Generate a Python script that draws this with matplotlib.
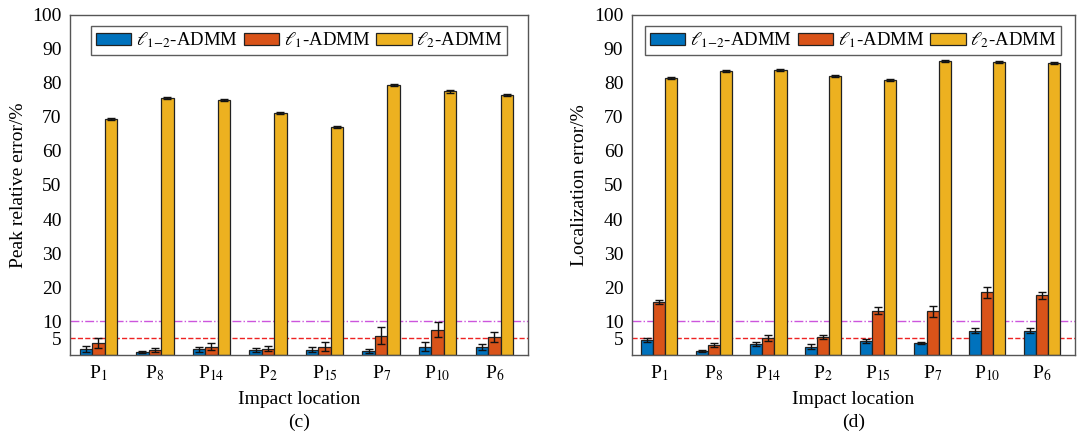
import numpy as np
import matplotlib
matplotlib.use("Agg")
import matplotlib.pyplot as plt

plt.rcParams['font.family'] = ['Liberation Serif', 'DejaVu Serif']
plt.rcParams['mathtext.fontset'] = 'stix'

locations = ['P$_1$', 'P$_8$', 'P$_{14}$', 'P$_2$', 'P$_{15}$', 'P$_7$', 'P$_{10}$', 'P$_6$']
methods = [r'$\ell_{1\mathrm{-}2}$-ADMM', r'$\ell_1$-ADMM', r'$\ell_2$-ADMM']
colors = ['#0072BD', '#D95319', '#EDB120']

# (c) peak relative error / %
peak_l12 = [1.8, 0.8, 1.7, 1.4, 1.6, 1.3, 2.5, 2.3]
peak_l1 = [3.5, 1.5, 2.5, 1.9, 2.5, 5.7, 7.5, 5.4]
peak_l2 = [69.5, 75.5, 75.0, 71.2, 67.0, 79.5, 77.5, 76.5]
peak_l12_err = [0.8, 0.3, 0.8, 0.6, 0.8, 0.6, 1.3, 0.9]
peak_l1_err = [1.4, 0.6, 0.9, 0.8, 1.4, 2.4, 2.3, 1.5]
peak_l2_err = [0.3, 0.3, 0.3, 0.3, 0.3, 0.3, 0.3, 0.3]

# (d) localization error / %
loc_l12 = [4.4, 1.3, 3.3, 2.5, 4.1, 3.5, 7.2, 7.2]
loc_l1 = [15.7, 3.0, 5.0, 5.4, 13.0, 12.8, 18.4, 17.6]
loc_l2 = [81.5, 83.5, 83.7, 82.0, 81.0, 86.5, 86.3, 86.0]
loc_l12_err = [0.5, 0.3, 0.6, 0.6, 0.5, 0.4, 0.8, 0.8]
loc_l1_err = [0.6, 0.6, 0.8, 0.6, 1.0, 1.5, 1.7, 1.0]
loc_l2_err = [0.3, 0.3, 0.3, 0.3, 0.3, 0.3, 0.3, 0.3]

yticks = [5, 10, 20, 30, 40, 50, 60, 70, 80, 90, 100]


def draw_panel(ax, series, errors, ylabel, tag):
    x = np.arange(len(locations))
    w = 0.22
    for i, (vals, errs) in enumerate(zip(series, errors)):
        ax.bar(x + (i - 1) * w, vals, w, color=colors[i], edgecolor='#222222',
               linewidth=0.9, label=methods[i], zorder=2)
        ax.errorbar(x + (i - 1) * w, vals, yerr=errs, fmt='none', ecolor='#111111',
                    elinewidth=1.0, capsize=3, capthick=1.0, zorder=3)
    ax.axhline(10, color='#CC55DD', ls='-.', lw=1.0, zorder=1)
    ax.axhline(5, color='#EE2222', ls='--', lw=1.0, zorder=1)
    ax.set_ylim(0, 100)
    ax.set_xlim(-0.5, 7.6)
    ax.set_yticks(yticks)
    ax.set_xticks(x)
    ax.set_xticklabels(locations)
    ax.tick_params(axis='both', length=0, labelsize=14, pad=6)
    for s in ax.spines.values():
        s.set_color('#555555')
        s.set_linewidth(1.0)
    ax.set_ylabel(ylabel, fontsize=14, labelpad=4)
    ax.set_xlabel('Impact location\n' + tag, fontsize=14, labelpad=6, linespacing=1.4)
    leg = ax.legend(loc='upper center', ncol=3, fontsize=13.5, frameon=True,
                    fancybox=False, edgecolor='#333333', handlelength=1.9,
                    handleheight=0.65, handletextpad=0.25, columnspacing=0.3,
                    borderpad=0.25, bbox_to_anchor=(0.5, 0.995))
    leg.get_frame().set_linewidth(1.0)


fig = plt.figure(figsize=(10.78, 4.41), dpi=100)
ax1 = fig.add_axes([0.065, 0.195, 0.425, 0.771])
ax2 = fig.add_axes([0.586, 0.195, 0.411, 0.771])

draw_panel(ax1, [peak_l12, peak_l1, peak_l2], [peak_l12_err, peak_l1_err, peak_l2_err],
           'Peak relative error/%', '(c)')
draw_panel(ax2, [loc_l12, loc_l1, loc_l2], [loc_l12_err, loc_l1_err, loc_l2_err],
           'Localization error/%', '(d)')

fig.savefig('out.png', dpi=100)
